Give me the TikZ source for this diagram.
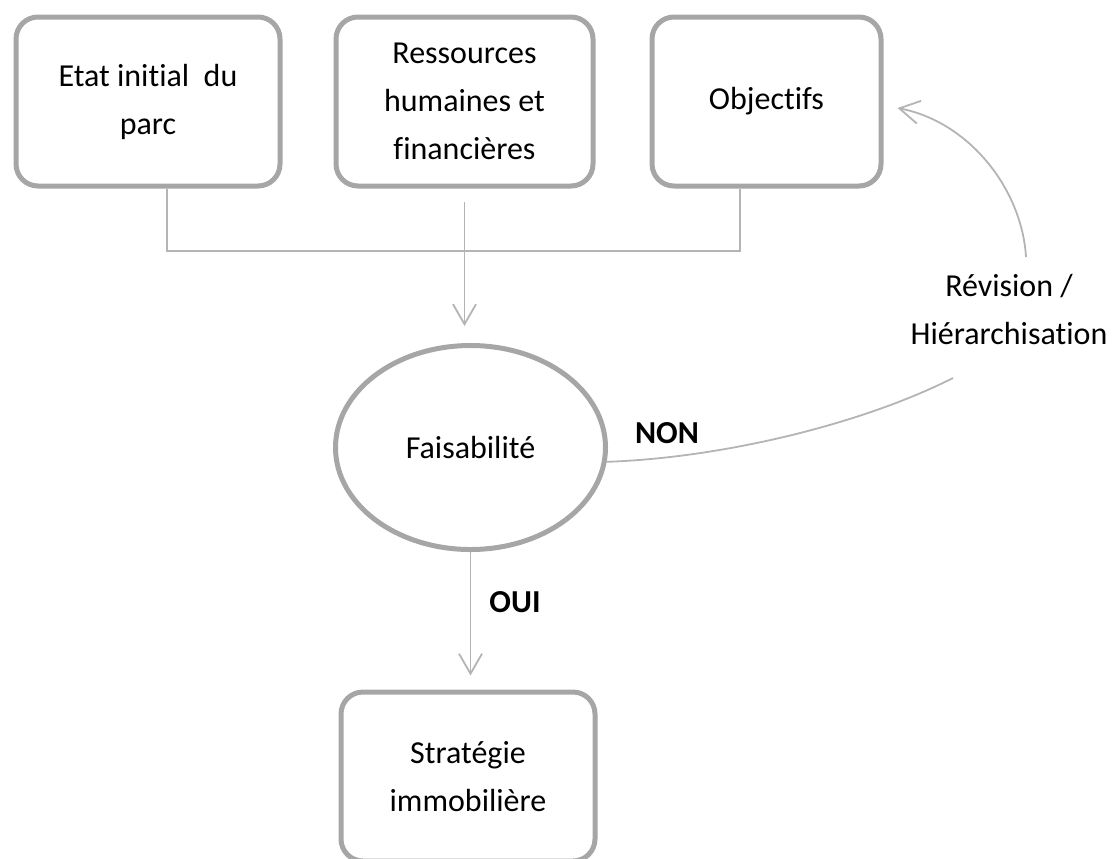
\documentclass[tikz,border=0pt]{standalone}
\usepackage{fontspec}
\setmainfont{Carlito}[RawFeature={-liga;-clig}]
\usetikzlibrary{shapes.geometric,arrows.meta}
\definecolor{bordgris}{RGB}{166,166,166}
\definecolor{liengris}{RGB}{180,180,180}
\begin{document}
\begin{tikzpicture}[x=0.5pt,y=-0.5pt,
    every node/.style={font=\fontsize{16}{24}\selectfont,align=center,inner sep=0pt},
    boite/.style={draw=bordgris,line width=2.5pt,rounded corners=11pt,minimum height=84.5pt},
    lien/.style={draw=liengris,line width=0.9pt},
    fleche/.style={lien,-{Straight Barb[length=10pt,width=11.5pt]}}]
      \useasboundingbox (0,0) rectangle (1112,858);
      \node[boite,minimum width=132pt] (etat) at (148,101.5) {Etat initial\ \ du\\parc};
      \node[boite,minimum width=128.5pt] (res) at (464.5,101.5) {Ressources\\humaines et\\financières};
      \node[boite,minimum width=114.5pt] (obj) at (766.5,101.5) {Objectifs};
      \node[draw=bordgris,line width=2.5pt,ellipse,minimum width=135pt,minimum height=102pt] (fais) at (470.5,447.5) {Faisabilité};
      \node[boite,minimum width=127pt] (strat) at (468,776.5) {Stratégie\\immobilière};
      \node (rev) at (1009,309) {Révision /\\Hiérarchisation};
      \node[font=\fontsize{16}{24}\selectfont\bfseries] (non) at (667,433) {NON};
      \node[font=\fontsize{16}{24}\selectfont\bfseries] (oui) at (515,602) {OUI};
      \coordinate (joint) at (res.south |- 0,251);
      \coordinate (nonfin) at (953,378);
      \coordinate (revdeb) at (1026,257);
      \draw[lien] ([xshift=9.5pt]etat.south) |- (joint) -| ([xshift=-13.25pt]obj.south);
      \draw[fleche,shorten <=6.75pt,shorten >=8.5pt] (res.south) -- (res.south |- fais.north);
      \draw[fleche,shorten >=7pt] (fais.south) -- (fais.south |- strat.north);
      \draw[lien] (fais.-6) .. controls (720,458) and (860,425) .. (nonfin);
      \draw[fleche] (revdeb) .. controls (1022,190) and (970,122) .. ([xshift=7pt,yshift=-3.25pt]obj.east);
    \end{tikzpicture}
\end{document}
